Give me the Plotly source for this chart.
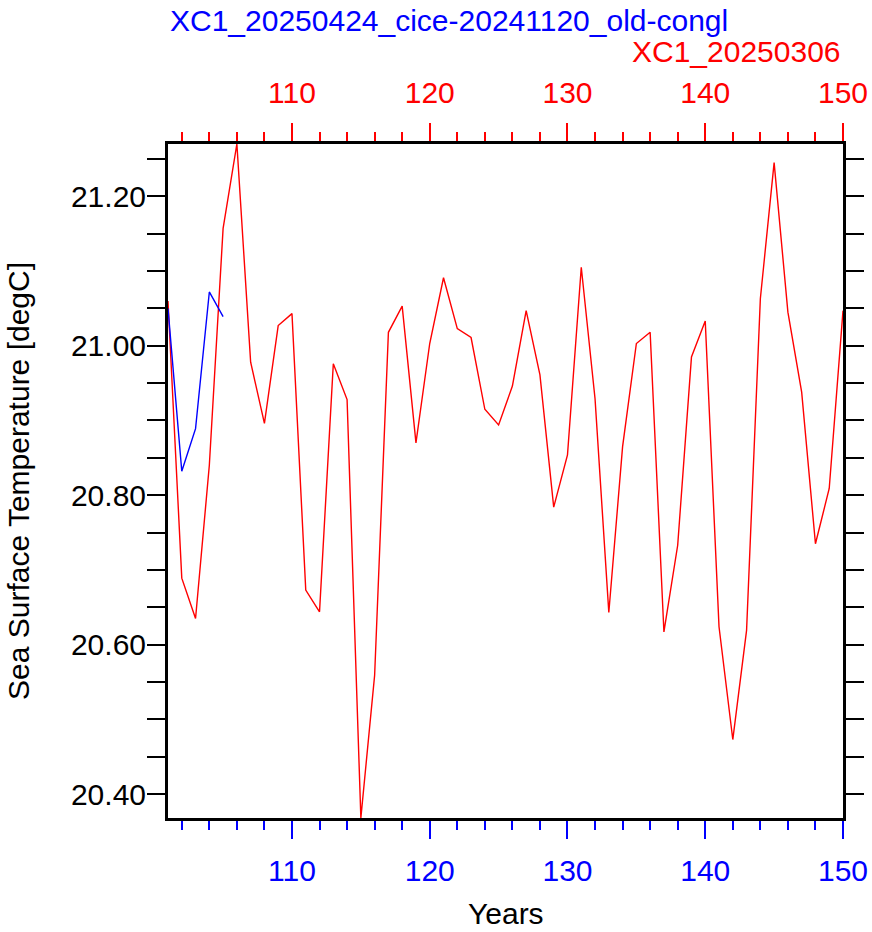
import plotly.graph_objects as go

# ---- data ----
years_red = list(range(101, 151))
sst_red = [21.060, 20.689, 20.635, 20.840, 21.157, 21.270, 20.978, 20.896, 21.027, 21.043,
           20.673, 20.644, 20.976, 20.928, 20.368, 20.559, 21.018, 21.053, 20.870, 21.003,
           21.091, 21.023, 21.011, 20.915, 20.894, 20.946, 21.047, 20.961, 20.784, 20.854,
           21.105, 20.929, 20.643, 20.865, 21.003, 21.018, 20.617, 20.733, 20.985, 21.033,
           20.624, 20.473, 20.619, 21.063, 21.245, 21.045, 20.938, 20.735, 20.809, 21.047]
years_blue = [101, 102, 103, 104, 105]
sst_blue = [21.050, 20.832, 20.889, 21.072, 21.039]

name_red = "XC1_20250306"
name_blue = "XC1_20250424_cice-20241120_old-congl"
x_title = "Years"
y_title = "Sea Surface Temperature [degC]"

RED = "#ff0000"
BLUE = "#0000ff"
FONT = "Liberation Sans, Arial, Helvetica, sans-serif"

xr = [min(years_red), max(years_red)]
yr = [min(sst_red + sst_blue), max(sst_red + sst_blue)]

fig = go.Figure()
fig.add_trace(go.Scatter(x=years_red, y=sst_red, mode="lines",
                         line=dict(color=RED, width=1.4), showlegend=False))
fig.add_trace(go.Scatter(x=years_blue, y=sst_blue, mode="lines",
                         line=dict(color=BLUE, width=1.4), showlegend=False))

fig.update_layout(
    width=872, height=932,
    margin=dict(l=168, r=29, t=144, b=114, pad=0, autoexpand=False),
    paper_bgcolor="white", plot_bgcolor="white",
    font=dict(family=FONT, color="black"),
    xaxis=dict(
        range=xr, tick0=0, dtick=10, ticks="outside", ticklen=18, tickwidth=2,
        tickcolor=BLUE, tickfont=dict(color=BLUE, size=30),
        minor=dict(dtick=2, ticklen=9, tickwidth=1.5, tickcolor=BLUE, ticks="outside"),
        showline=True, linecolor="black", linewidth=3, mirror=False,
        showgrid=False, zeroline=False, ticklabelstandoff=6, automargin=False,
    ),
    xaxis2=dict(
        range=xr, overlaying="x", side="top", anchor="y",
        tick0=0, dtick=10, ticks="outside", ticklen=18, tickwidth=2,
        tickcolor=RED, tickfont=dict(color=RED, size=30),
        minor=dict(dtick=2, ticklen=9, tickwidth=1.5, tickcolor=RED, ticks="outside"),
        showline=True, linecolor="black", linewidth=3,
        showgrid=False, zeroline=False, ticklabelstandoff=8, automargin=False,
    ),
    yaxis=dict(
        range=yr, tick0=20.4, dtick=0.2, tickformat=".2f",
        ticks="outside", ticklen=18, tickwidth=2, tickcolor="black",
        tickfont=dict(size=30),
        minor=dict(dtick=0.05, ticklen=9, tickwidth=1.5, tickcolor="black", ticks="outside"),
        showline=True, linecolor="black", linewidth=3, mirror="allticks",
        showgrid=False, zeroline=False, automargin=False, ticklabelstandoff=-5,
    ),
    annotations=[
        dict(text=name_blue, xref="paper", yref="paper", x=0, y=1,
             xanchor="left", yanchor="middle", yshift=124, showarrow=False,
             font=dict(color=BLUE, size=30, family=FONT)),
        dict(text=name_red, xref="paper", yref="paper", x=1, y=1,
             xanchor="right", yanchor="middle", yshift=93, showarrow=False,
             font=dict(color=RED, size=30, family=FONT)),
        dict(text=x_title, xref="paper", yref="paper", x=0.5, y=0,
             xanchor="center", yanchor="middle", yshift=-95, showarrow=False,
             font=dict(color="black", size=30, family=FONT)),
        dict(text=y_title, xref="paper", yref="paper", x=0, y=0.5,
             xanchor="center", yanchor="middle", xshift=-150, showarrow=False,
             textangle=-90, font=dict(color="black", size=30, family=FONT)),
    ],
)
# make the top axis show even without traces on it
fig.add_trace(go.Scatter(x=xr, y=yr, xaxis="x2", mode="markers",
                         marker=dict(opacity=0), hoverinfo="skip", showlegend=False))

fig.write_html("out.html")
